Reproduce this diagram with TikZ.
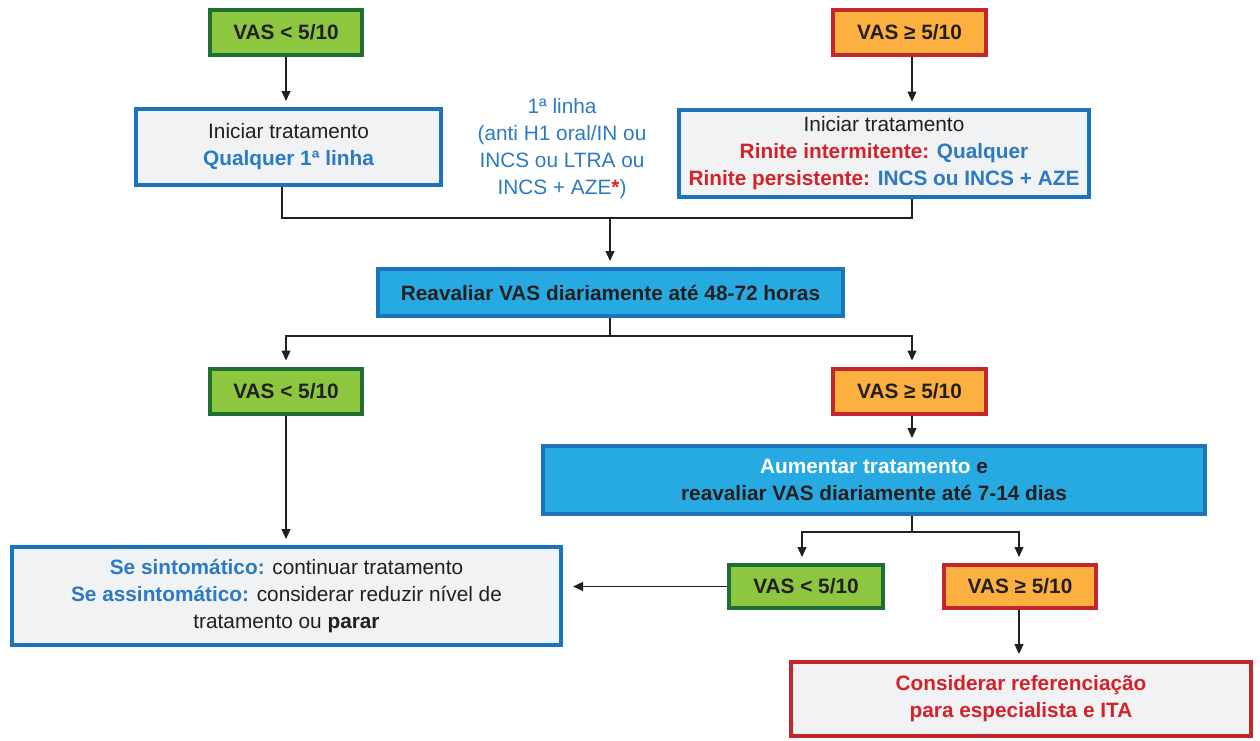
\documentclass[tikz,border=0pt]{standalone}
\usepackage{fontspec}
\setmainfont{Liberation Sans}
\usetikzlibrary{arrows.meta,calc}
\definecolor{gfill}{HTML}{8DC63F}
\definecolor{gline}{HTML}{1F6F35}
\definecolor{ofill}{HTML}{FBB040}
\definecolor{rline}{HTML}{C1272D}
\definecolor{bline}{HTML}{1C75BC}
\definecolor{lfill}{HTML}{F1F2F4}
\definecolor{cfill}{HTML}{27AAE1}
\definecolor{btext}{HTML}{2B7AC3}
\definecolor{rtext}{HTML}{D2232A}
\definecolor{dtext}{HTML}{231F20}
\tikzset{
  base/.style={draw, line width=4pt, inner sep=0pt, align=center, text=dtext,
    font=\fontsize{20.8}{27}\selectfont},
  lowbox/.style={base, draw=gline, fill=gfill, minimum width=152pt, minimum height=45pt, font=\fontsize{20.8}{27}\selectfont\bfseries},
  highbox/.style={base, draw=rline, fill=ofill, minimum width=153pt, minimum height=45pt, font=\fontsize{20.8}{27}\selectfont\bfseries},
  infobox/.style={base, draw=bline, fill=lfill},
  actbox/.style={base, draw=bline, fill=cfill, font=\fontsize{20.8}{27}\selectfont\bfseries},
  refbox/.style={base, draw=rline, fill=lfill, text=rtext, font=\fontsize{20.8}{27}\selectfont\bfseries},
  conn/.style={draw=dtext, line width=1.2pt},
  arr/.style={conn, -{Triangle[length=10pt,width=9pt]}, shorten >=6pt}
}
\begin{document}
\begin{tikzpicture}[x=1pt,y=-1pt]
\useasboundingbox (0,0) rectangle (1260,740);
% top row
\node[lowbox] (v1) at (286,32.5) {VAS < 5/10};
\node[highbox] (v2) at (909.5,32.5) {VAS ≥ 5/10};
\node[infobox, minimum width=305pt, minimum height=76pt] (i1) at (288.5,147)
  {Iniciar tratamento\\ \textcolor{btext}{\bfseries Qualquer 1ª linha}};
\node[infobox, minimum width=410pt, minimum height=87pt] (i2) at (884,153)
  {Iniciar tratamento\\
   \textcolor{rtext}{\bfseries Rinite intermitente:} \textcolor{btext}{\bfseries Qualquer}\\
   \textcolor{rtext}{\bfseries Rinite persistente:} \textcolor{btext}{\bfseries INCS ou INCS + AZE}};
\node[align=center, text=btext, inner sep=0pt, font=\fontsize{20.8}{27}\selectfont] (note) at (562,149)
  {1ª linha\\ (anti H1 oral/IN ou\\ INCS ou LTRA ou\\ INCS + AZE\textcolor{rtext}{\bfseries *})};
% reassess
\node[actbox, minimum width=465pt, minimum height=47pt] (r) at (610.5,292.5)
  {Reavaliar VAS diariamente até 48-72 horas};
\node[lowbox] (v3) at (286,391) {VAS < 5/10};
\node[highbox] (v4) at (909.5,391) {VAS ≥ 5/10};
\node[actbox, minimum width=662pt, minimum height=68pt] (a) at (874,480)
  {\textcolor{white}{Aumentar tratamento} e\\ reavaliar VAS diariamente até 7-14 dias};
\node[lowbox, minimum width=154pt, minimum height=43pt] (v5) at (806,586.5) {VAS < 5/10};
\node[highbox, minimum width=152pt, minimum height=43pt] (v6) at (1020,586.5) {VAS ≥ 5/10};
\node[infobox, minimum width=549pt, minimum height=98pt] (s) at (286.5,596)
  {\textcolor{btext}{\bfseries Se sintomático:} continuar tratamento\\
   \textcolor{btext}{\bfseries Se assintomático:} considerar reduzir nível de\\
   tratamento ou \textbf{parar}};
\node[refbox, minimum width=460pt, minimum height=74pt] (c) at (1021,699)
  {Considerar referenciação\\ para especialista e ITA};
% connectors
\coordinate (j1) at (610,218);
\coordinate (j2) at (610,336);
\coordinate (j3) at (912,532);
\draw[arr] (v1.south) -- (v1.south |- i1.north);
\draw[arr] (v2.south -| 912,0) -- (912,0 |- i2.north);
\draw[conn] (i1.south -| 282,0) |- (j1) -| (912,0 |- i2.south);
\draw[arr] (j1) -- (j1 |- r.north);
\draw[conn] (j2 |- r.south) -- (j2);
\draw[arr] (j2) -| (v3.north);
\draw[arr] (j2) -| (912,0 |- v4.north);
\draw[arr] (912,0 |- v4.south) -- (912,0 |- a.north);
\draw[conn] (j3 |- a.south) -- (j3);
\draw[arr] (j3) -| (802,0 |- v5.north);
\draw[arr] (j3) -| (1019,0 |- v6.north);
\draw[arr, shorten >=10pt] (v5.west) -- (v5.west -| s.east);
\draw[arr] (v3.south) -- (v3.south |- s.north);
\draw[arr] (1019,0 |- v6.south) -- (1019,0 |- c.north);
\end{tikzpicture}
\end{document}
